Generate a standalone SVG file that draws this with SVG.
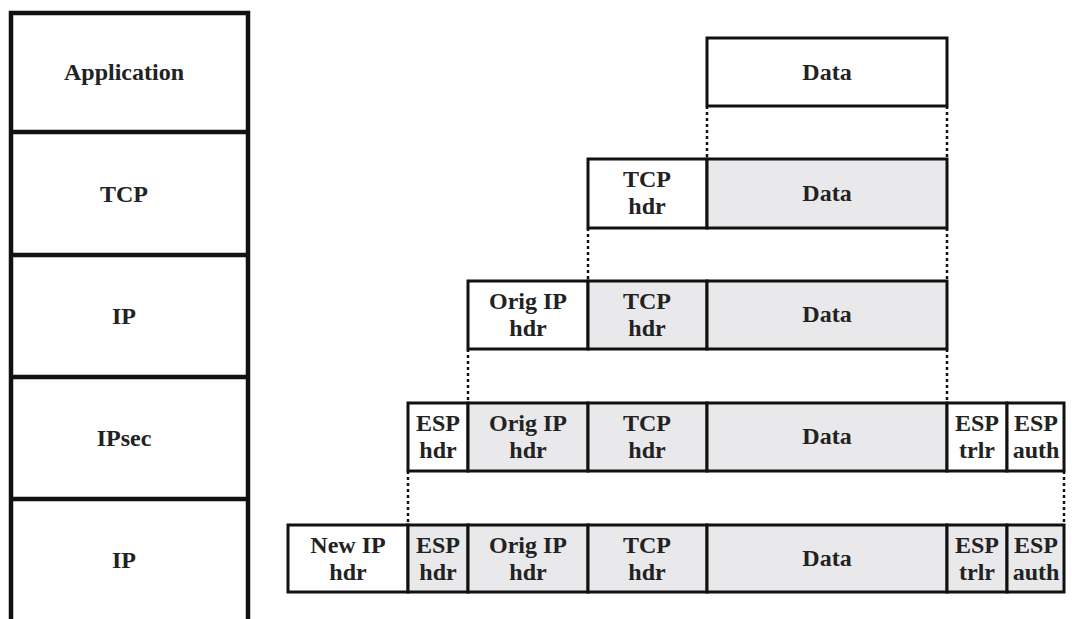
<svg xmlns="http://www.w3.org/2000/svg" width="1072" height="619" viewBox="0 0 1072 619" font-family="Liberation Serif, Times New Roman, DejaVu Serif, serif" font-weight="bold">
<style>
.b{stroke:#111;stroke-width:3;}
.w{fill:#fff;}
.g{fill:#e9e9eb;}
.stk{fill:#fff;stroke:#111;stroke-width:4.5;}
.dot{stroke:#111;stroke-width:2.5;stroke-dasharray:3,3;fill:none;}
text{font-size:24px;fill:#222;text-anchor:middle;}
</style>
<rect width="1072" height="619" fill="#fff"/>
<g id="stack">
<path class="stk" d="M11 625 V13 H248 V625"/>
<line class="stk" x1="11" y1="132" x2="248" y2="132"/>
<line class="stk" x1="11" y1="255" x2="248" y2="255"/>
<line class="stk" x1="11" y1="377" x2="248" y2="377"/>
<line class="stk" x1="11" y1="499" x2="248" y2="499"/>
<text x="124" y="80">Application</text>
<text x="124" y="202">TCP</text>
<text x="124" y="324">IP</text>
<text x="124" y="446">IPsec</text>
<text x="124" y="568">IP</text>
</g>
<g id="connectors">
<line class="dot" x1="707" y1="106" x2="707" y2="159"/>
<line class="dot" x1="947" y1="106" x2="947" y2="159"/>
<line class="dot" x1="588" y1="228" x2="588" y2="281"/>
<line class="dot" x1="947" y1="228" x2="947" y2="281"/>
<line class="dot" x1="468" y1="349" x2="468" y2="403"/>
<line class="dot" x1="947" y1="349" x2="947" y2="403"/>
<line class="dot" x1="408" y1="471" x2="408" y2="525"/>
<line class="dot" x1="1064" y1="471" x2="1064" y2="525"/>
</g>
<g id="row1">
<rect class="b w" x="707" y="38" width="240" height="68"/>
<text x="827" y="80">Data</text>
</g>
<g id="row2">
<rect class="b w" x="588" y="159" width="119" height="69"/>
<rect class="b g" x="707" y="159" width="240" height="69"/>
<text x="647" y="187">TCP</text><text x="647" y="214">hdr</text>
<text x="827" y="201">Data</text>
</g>
<g id="row3">
<rect class="b w" x="468" y="281" width="120" height="68"/>
<rect class="b g" x="588" y="281" width="119" height="68"/>
<rect class="b g" x="707" y="281" width="240" height="68"/>
<text x="528" y="309">Orig IP</text><text x="528" y="336">hdr</text>
<text x="647" y="309">TCP</text><text x="647" y="336">hdr</text>
<text x="827" y="322">Data</text>
</g>
<g id="row4">
<rect class="b w" x="408" y="403" width="60" height="68"/>
<rect class="b g" x="468" y="403" width="120" height="68"/>
<rect class="b g" x="588" y="403" width="119" height="68"/>
<rect class="b g" x="707" y="403" width="240" height="68"/>
<rect class="b w" x="947" y="403" width="60" height="68"/>
<rect class="b w" x="1007" y="403" width="57" height="68"/>
<text x="438" y="431">ESP</text><text x="438" y="458">hdr</text>
<text x="528" y="431">Orig IP</text><text x="528" y="458">hdr</text>
<text x="647" y="431">TCP</text><text x="647" y="458">hdr</text>
<text x="827" y="444">Data</text>
<text x="977" y="431">ESP</text><text x="977" y="458">trlr</text>
<text x="1036" y="431">ESP</text><text x="1036" y="458">auth</text>
</g>
<g id="row5">
<rect class="b w" x="288" y="525" width="120" height="67"/>
<rect class="b g" x="408" y="525" width="60" height="67"/>
<rect class="b g" x="468" y="525" width="120" height="67"/>
<rect class="b g" x="588" y="525" width="119" height="67"/>
<rect class="b g" x="707" y="525" width="240" height="67"/>
<rect class="b g" x="947" y="525" width="60" height="67"/>
<rect class="b g" x="1007" y="525" width="57" height="67"/>
<text x="348" y="553">New IP</text><text x="348" y="580">hdr</text>
<text x="438" y="553">ESP</text><text x="438" y="580">hdr</text>
<text x="528" y="553">Orig IP</text><text x="528" y="580">hdr</text>
<text x="647" y="553">TCP</text><text x="647" y="580">hdr</text>
<text x="827" y="566">Data</text>
<text x="977" y="553">ESP</text><text x="977" y="580">trlr</text>
<text x="1036" y="553">ESP</text><text x="1036" y="580">auth</text>
</g>
</svg>
